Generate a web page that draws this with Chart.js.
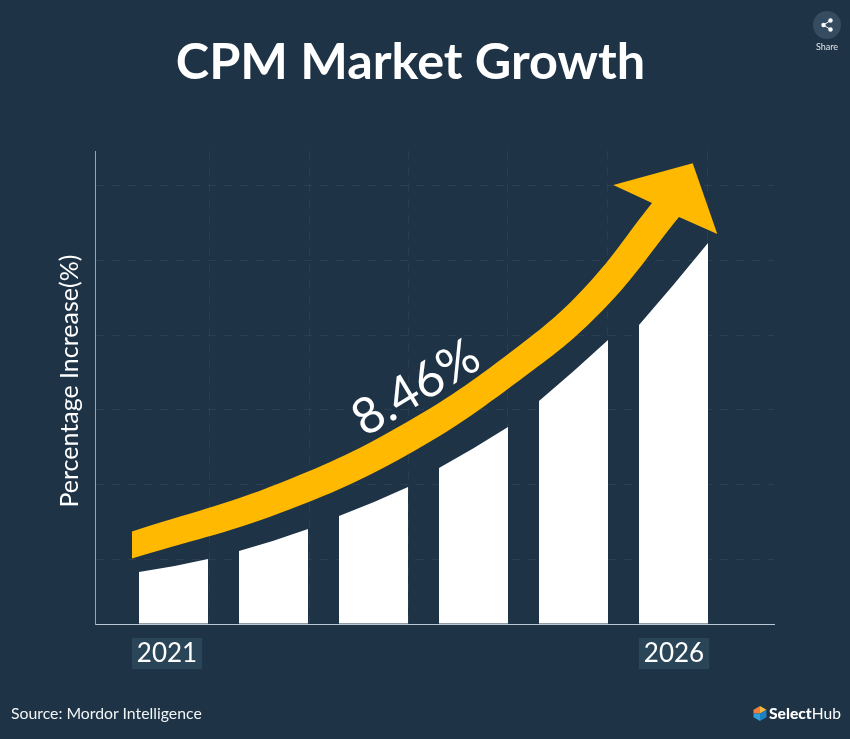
<!DOCTYPE html>
<html>
<head>
<meta charset="utf-8">
<title>CPM Market Growth</title>
<script src="https://cdn.jsdelivr.net/npm/chart.js@4/dist/chart.umd.min.js"></script>
<style>
html, body { margin: 0; padding: 0; background: #1e3346; }
#wrap { position: relative; width: 850px; height: 739px; overflow: hidden; font-family: Lato, sans-serif; color: #fff; }
canvas { position: absolute; left: 0; top: 0; }
h1 { position: absolute; left: 0; width: 821px; top: 30px; margin: 0; text-align: center; font-size: 50.4px; line-height: 60px; font-weight: 700; }
#source { position: absolute; left: 11px; top: 703px; font-size: 15.8px; line-height: 20px; color: #f2f5f7; }
#logo { position: absolute; left: 753px; top: 703px; font-size: 15.6px; line-height: 20px; display: flex; align-items: center; gap: 2px; }
#logo b { font-weight: 900; }
#logo span { font-weight: 400; }
#share { position: absolute; left: 807px; top: 11px; width: 40px; text-align: center; font-size: 9px; color: #dfe6ec; }
#share svg { display: block; margin: 0 auto 2px; }
</style>
</head>
<body>
<div id="wrap">
  <canvas id="growthChart" width="850" height="739"></canvas>
  <h1>CPM Market Growth</h1>
  <div id="share">
    <svg width="28" height="28" viewBox="0 0 28 28">
      <circle cx="14" cy="14" r="14" fill="#364c60"/>
      <path d="M17.5 9.5 L10.5 14 L17.5 18.5" stroke="#fff" stroke-width="1" fill="none"/>
      <circle cx="17.5" cy="9.5" r="2.2" fill="#fff"/>
      <circle cx="10.5" cy="14" r="2.2" fill="#fff"/>
      <circle cx="17.5" cy="18.5" r="2.2" fill="#fff"/>
    </svg>
    Share
  </div>
  <div id="source">Source: Mordor Intelligence</div>
  <div id="logo">
    <svg width="14" height="15" viewBox="0 0 14 15">
      <polygon points="7,0 13.5,3.7 7,7.5" fill="#f6b73c"/>
      <polygon points="7,0 0.5,3.7 0.5,7.5 7,7.5" fill="#ef7d3c"/>
      <polygon points="0.5,7.5 0.5,11.2 7,15 7,7.5" fill="#2f9fd8"/>
      <polygon points="7,7.5 7,15 13.5,11.2 13.5,3.7" fill="#1f7fc0"/>
    </svg>
    <div><b>Select</b><span>Hub</span></div>
  </div>
</div>
<script>
const years = [2021, 2022, 2023, 2024, 2025, 2026];
const barRight = [13.74, 20.08, 28.96, 41.65, 60.04, 80.55];
const barLeft = [10.99, 15.43, 22.83, 32.98, 47.15, 63.21];

// arrow outline, x in years, y in axis units
const arrowTopX = [2020.585, 2022.065, 2023.335, 2024.465, 2025.135, 2025.785, 2026.055];
const arrowTopY = [19.56, 29.81, 42.71, 58.99, 71.67, 89.0, 96.0];
const arrowLowX = [2020.585, 2022.065, 2023.335, 2024.465, 2025.295, 2026.055];
const arrowLowY = [13.85, 23.47, 35.73, 51.59, 66.38, 86.05];
const headX = [2025.785, 2025.398, 2026.192, 2026.438, 2026.055, 2025.785];
const headY = [89.0, 92.82, 97.4, 82.45, 86.05, 89.0];

const xGridTicks = [2021.355, 2022.355, 2023.345, 2024.345, 2025.345, 2026.345];
const xLabelTicks = [2020.935, 2026.005];
const yGridTicks = [0, 13.74, 29.5, 45.3, 61, 76.8, 92.7];

const gridColor = 'rgba(255,255,255,0.06)';
const toPoints = (xs, ys) => xs.map((x, i) => ({ x: x, y: ys[i] }));

// bars have a slanted top: left height from barLeft, right height from the bar value
const slantedBars = {
    id: 'slantedBars',
    beforeDatasetDraw(chart, args) {
        if (args.index !== 0) return;
        const ctx = chart.ctx;
        const yScale = chart.scales.y;
        args.meta.data.forEach((bar, i) => {
            const l = bar.x - bar.width / 2;
            const r = bar.x + bar.width / 2;
            const yl = yScale.getPixelForValue(barLeft[i]);
            ctx.save();
            ctx.fillStyle = '#ffffff';
            ctx.beginPath();
            ctx.moveTo(l, bar.base);
            ctx.lineTo(l, yl);
            ctx.quadraticCurveTo((l + r) / 2, (yl + bar.y) / 2 + 1.5, r, bar.y);
            ctx.lineTo(r, bar.base);
            ctx.closePath();
            ctx.fill();
            ctx.restore();
        });
        return false;
    }
};

const rateLabel = {
    id: 'rateLabel',
    afterDatasetsDraw(chart) {
        const ctx = chart.ctx;
        ctx.save();
        ctx.translate(416, 388);
        ctx.rotate(-31 * Math.PI / 180);
        ctx.font = '400 50px Lato';
        ctx.fillStyle = '#ffffff';
        ctx.textAlign = 'center';
        ctx.textBaseline = 'middle';
        ctx.fillText('8.46%', 0, 0);
        ctx.restore();
    }
};

new Chart(document.getElementById('growthChart').getContext('2d'), {
    type: 'bar',
    data: {
        datasets: [
            {
                type: 'bar',
                data: toPoints(years, barRight),
                backgroundColor: '#ffffff',
                barThickness: 69,
                order: 3
            },
            {
                type: 'scatter',
                showLine: true,
                data: toPoints(arrowTopX, arrowTopY),
                borderWidth: 0,
                borderColor: 'transparent',
                backgroundColor: '#ffb900',
                pointRadius: 0,
                tension: 0.4,
                fill: '+1',
                order: 2
            },
            {
                type: 'scatter',
                showLine: true,
                data: toPoints(arrowLowX, arrowLowY),
                borderWidth: 0,
                borderColor: 'transparent',
                pointRadius: 0,
                tension: 0.4,
                order: 2
            },
            {
                type: 'scatter',
                showLine: true,
                data: toPoints(headX, headY),
                borderWidth: 0,
                borderColor: 'transparent',
                backgroundColor: '#ffb900',
                pointRadius: 0,
                tension: 0,
                fill: 'shape',
                order: 1
            }
        ]
    },
    options: {
        responsive: false,
        animation: false,
        layout: { padding: { left: 55, right: 76, top: 151, bottom: 60 } },
        plugins: {
            legend: { display: false },
            tooltip: { enabled: false }
        },
        scales: {
            x: {
                type: 'linear',
                offset: false,
                min: 2020.215,
                max: 2027.005,
                afterBuildTicks(axis) {
                    axis.ticks = xLabelTicks.concat(xGridTicks).sort((a, b) => a - b).map(v => ({ value: v }));
                },
                afterFit(axis) { axis.height = 55; },
                grid: {
                    offset: false,
                    color: ctx => (ctx.tick && ctx.tick.label ? 'transparent' : gridColor),
                    drawTicks: false
                },
                border: { color: '#b9c8d6', width: 1, dash: [8, 8] },
                ticks: {
                    autoSkip: false,
                    maxRotation: 0,
                    padding: 14,
                    color: '#ffffff',
                    font: { family: 'Lato', size: 26 },
                    callback: v => (xLabelTicks.includes(v) ? String(Math.round(v)) : ''),
                    showLabelBackdrop: true,
                    backdropColor: ctx => (ctx.tick && ctx.tick.label ? '#2a4458' : 'transparent'),
                    backdropPadding: { x: 5, y: 0 }
                }
            },
            y: {
                min: 0,
                max: 100,
                afterBuildTicks(axis) {
                    axis.ticks = yGridTicks.map(v => ({ value: v }));
                },
                afterFit(axis) { axis.width = 40; },
                grid: {
                    color: ctx => (ctx.tick && ctx.tick.value === 0 ? 'transparent' : gridColor),
                    drawTicks: false
                },
                border: { color: '#93a6b8', width: 1, dash: [8, 8] },
                ticks: { display: false },
                title: {
                    display: true,
                    text: '  Percentage Increase(%)',
                    color: '#ffffff',
                    font: { family: 'Lato', size: 25 },
                    padding: 0
                }
            }
        }
    },
    plugins: [slantedBars, rateLabel]
});
</script>
</body>
</html>
